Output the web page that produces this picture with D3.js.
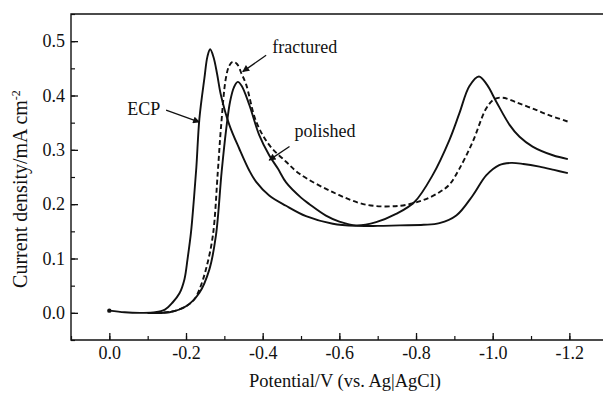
<!DOCTYPE html>
<html>
<head>
<meta charset="utf-8">
<script src="https://cdn.jsdelivr.net/npm/d3@7/dist/d3.min.js"></script>
<style>
  html, body { margin: 0; padding: 0; background: #fff; }
  svg { display: block; }
  text { font-family: "Liberation Serif", "DejaVu Serif", serif; fill: #111; }
</style>
</head>
<body>
<svg id="chart" width="603" height="397"></svg>
<script>
// Cathodic stripping curves: potential (V vs. Ag|AgCl) and current density (mA cm^-2)
const ecpPotential = [0.0, -0.04, -0.08, -0.12, -0.145, -0.165, -0.183, -0.196, -0.204, -0.213, -0.220, -0.227, -0.235, -0.248, -0.256, -0.263, -0.272, -0.281, -0.291, -0.313, -0.339, -0.365, -0.383, -0.417, -0.461, -0.513, -0.583, -0.644, -0.70, -0.757, -0.82, -0.861, -0.905, -0.948, -0.983, -1.017, -1.048, -1.08, -1.122, -1.16, -1.196];
const ecpCurrent   = [0.004, 0.001, 0.000, 0.001, 0.006, 0.019, 0.036, 0.062, 0.099, 0.148, 0.204, 0.268, 0.358, 0.432, 0.472, 0.485, 0.470, 0.440, 0.401, 0.346, 0.302, 0.262, 0.241, 0.216, 0.197, 0.178, 0.164, 0.160, 0.160, 0.161, 0.162, 0.165, 0.179, 0.216, 0.253, 0.272, 0.276, 0.274, 0.269, 0.263, 0.257];

const polishedPotential = [-0.10, -0.157, -0.200, -0.235, -0.261, -0.278, -0.293, -0.305, -0.315, -0.325, -0.335, -0.345, -0.365, -0.391, -0.417, -0.44, -0.461, -0.50, -0.522, -0.565, -0.60, -0.644, -0.696, -0.748, -0.796, -0.843, -0.887, -0.913, -0.939, -0.964, -0.985, -1.009, -1.044, -1.070, -1.104, -1.157, -1.196];
const polishedCurrent   = [0.000, 0.001, 0.012, 0.037, 0.080, 0.142, 0.260, 0.339, 0.389, 0.415, 0.425, 0.418, 0.383, 0.327, 0.290, 0.265, 0.240, 0.212, 0.200, 0.179, 0.168, 0.161, 0.167, 0.182, 0.204, 0.253, 0.318, 0.367, 0.417, 0.435, 0.420, 0.389, 0.346, 0.324, 0.306, 0.290, 0.283];

const fracturedPotential = [-0.10, -0.16, -0.20, -0.222, -0.235, -0.252, -0.270, -0.283, -0.291, -0.304, -0.313, -0.322, -0.333, -0.345, -0.357, -0.383, -0.417, -0.461, -0.496, -0.583, -0.670, -0.757, -0.817, -0.861, -0.887, -0.913, -0.948, -0.983, -1.004, -1.026, -1.06, -1.104, -1.15, -1.196];
const fracturedCurrent   = [0.000, 0.002, 0.012, 0.025, 0.043, 0.080, 0.142, 0.260, 0.339, 0.432, 0.455, 0.462, 0.458, 0.440, 0.420, 0.352, 0.309, 0.278, 0.256, 0.222, 0.199, 0.197, 0.207, 0.222, 0.236, 0.265, 0.315, 0.376, 0.393, 0.396, 0.388, 0.376, 0.363, 0.352];

const xTicks = [0.0, -0.2, -0.4, -0.6, -0.8, -1.0, -1.2];
const yTicks = [0.0, 0.1, 0.2, 0.3, 0.4, 0.5];

// Curve labels with arrows, anchored in data units
const labelText   = ["ECP", "fractured", "polished"];
const labelAt     = [[-0.047, 0.364], [-0.425, 0.478], [-0.483, 0.324]];
const arrowFrom   = [[-0.148, 0.373], [-0.409, 0.474], [-0.470, 0.306]];
const arrowTo     = [[-0.235, 0.351], [-0.348, 0.444], [-0.417, 0.281]];

const svg = d3.select("#chart");
const plotLeft = 71, plotRight = 607.7, plotTop = 14, plotBottom = 340;

const x = d3.scaleLinear().domain([0.1, -1.3]).range([plotLeft, plotRight]);
const y = d3.scaleLinear().domain([-0.05, 0.55]).range([plotBottom, plotTop]);

// One decimal, plain hyphen for negatives
const fmt = v => v.toFixed(1);

// Minor ticks (inside)
const xMinor = d3.range(0.1, -1.31, -0.1).map(v => +v.toFixed(2));
const yMinor = d3.range(-0.05, 0.551, 0.05).map(v => +v.toFixed(2));

const xAxis = d3.axisBottom(x).tickValues(xMinor).tickSize(-4).tickFormat("");
const yAxis = d3.axisLeft(y).tickValues(yMinor).tickSize(-4).tickFormat("");

svg.append("g").attr("transform", `translate(0,${plotBottom})`).call(xAxis)
  .call(g => g.select(".domain").remove())
  .selectAll("line").attr("stroke", "#111").attr("stroke-width", 1.2);
svg.append("g").attr("transform", `translate(${plotLeft},0)`).call(yAxis)
  .call(g => g.select(".domain").remove())
  .selectAll("line").attr("stroke", "#111").attr("stroke-width", 1.2);

// Major ticks with labels
const xMajor = svg.append("g").attr("transform", `translate(0,${plotBottom})`)
  .call(d3.axisBottom(x).tickValues(xTicks).tickSize(-7).tickPadding(6).tickFormat(fmt));
xMajor.select(".domain").remove();
xMajor.selectAll("line").attr("stroke", "#111").attr("stroke-width", 1.3);
xMajor.selectAll("text").attr("font-size", 18).attr("fill", "#111");

const yMajor = svg.append("g").attr("transform", `translate(${plotLeft},0)`)
  .call(d3.axisLeft(y).tickValues(yTicks).tickSize(-7).tickPadding(6).tickFormat(fmt));
yMajor.select(".domain").remove();
yMajor.selectAll("line").attr("stroke", "#111").attr("stroke-width", 1.3);
yMajor.selectAll("text").attr("font-size", 18).attr("fill", "#111");

// Frame
svg.append("path")
  .attr("d", `M${plotRight},${plotTop}H${plotLeft}V${plotBottom}H${plotRight}`)
  .attr("fill", "none").attr("stroke", "#111").attr("stroke-width", 1.4);

// Curves
const line = d3.line().x(d => x(d[0])).y(d => y(d[1])).curve(d3.curveCatmullRom.alpha(0.5));
const series = [
  { p: ecpPotential, c: ecpCurrent, dash: null },
  { p: polishedPotential, c: polishedCurrent, dash: null },
  { p: fracturedPotential, c: fracturedCurrent, dash: "5,3" }
];
series.forEach(s => {
  const pts = d3.zip(s.p, s.c);
  svg.append("path").datum(pts)
    .attr("d", line)
    .attr("fill", "none")
    .attr("stroke", "#111")
    .attr("stroke-width", 1.9)
    .attr("stroke-linejoin", "round")
    .attr("stroke-dasharray", s.dash);
});

// Start marker of the ECP scan
svg.append("circle")
  .attr("cx", x(ecpPotential[0])).attr("cy", y(ecpCurrent[0]))
  .attr("r", 2.2).attr("fill", "#111");

// Arrowhead
svg.append("defs").append("marker")
  .attr("id", "arrow").attr("viewBox", "0 0 10 10")
  .attr("refX", 9).attr("refY", 5)
  .attr("markerWidth", 9).attr("markerHeight", 7)
  .attr("markerUnits", "userSpaceOnUse")
  .attr("orient", "auto")
  .append("path").attr("d", "M0,0L10,5L0,10Z").attr("fill", "#111");

labelText.forEach((t, i) => {
  svg.append("text")
    .attr("x", x(labelAt[i][0])).attr("y", y(labelAt[i][1]))
    .attr("font-size", 18).text(t);
  svg.append("line")
    .attr("x1", x(arrowFrom[i][0])).attr("y1", y(arrowFrom[i][1]))
    .attr("x2", x(arrowTo[i][0])).attr("y2", y(arrowTo[i][1]))
    .attr("stroke", "#111").attr("stroke-width", 1.3)
    .attr("marker-end", "url(#arrow)");
});

// Axis titles
svg.append("text")
  .attr("x", 345).attr("y", 387)
  .attr("text-anchor", "middle").attr("font-size", 18.5)
  .text("Potential/V (vs. Ag|AgCl)");

const yt = svg.append("text")
  .attr("transform", "translate(27,189) rotate(-90)")
  .attr("text-anchor", "middle").attr("font-size", 20);
yt.append("tspan").text("Current density/mA cm");
yt.append("tspan").attr("dy", -7).attr("font-size", 12).text("-2");
</script>
</body>
</html>
